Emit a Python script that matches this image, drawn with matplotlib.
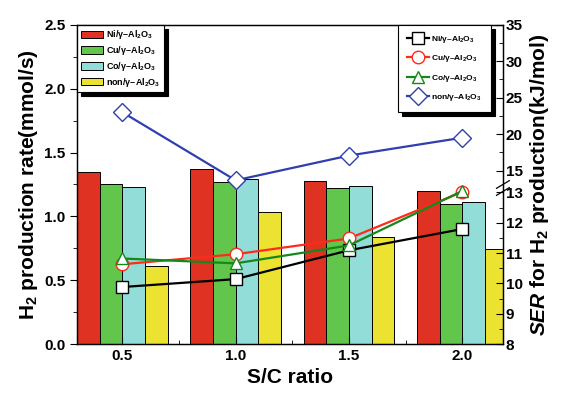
import numpy as np
import matplotlib
matplotlib.use("Agg")
import matplotlib.pyplot as plt
from matplotlib.ticker import FixedLocator, MultipleLocator

plt.rcParams['font.family'] = ['Liberation Sans', 'DejaVu Sans']
plt.rcParams['font.weight'] = 'bold'
plt.rcParams['mathtext.fontset'] = 'custom'
plt.rcParams['mathtext.rm'] = 'Liberation Sans:bold'
plt.rcParams['mathtext.bf'] = 'Liberation Sans:bold'
plt.rcParams['mathtext.it'] = 'Liberation Sans:italic:bold'
plt.rcParams['mathtext.default'] = 'bf'

# data
sc_ratio = [0.5, 1.0, 1.5, 2.0]
catalysts = ['Ni', 'Cu', 'Co', 'non']
rate_ni = [1.35, 1.37, 1.28, 1.20]
rate_cu = [1.25, 1.27, 1.22, 1.095]
rate_co = [1.23, 1.29, 1.24, 1.11]
rate_non = [0.61, 1.035, 0.84, 0.745]
ser_ni = [9.88, 10.14, 11.09, 11.79]
ser_cu = [10.63, 10.96, 11.48, 13.03]
ser_co = [10.82, 10.66, 11.25, 13.12]
ser_non = [23.0, 14.1, 17.05, 19.5]

bar_colors = ['#e03222', '#62c64c', '#92ddd8', '#ebe232']
line_colors = ['black', '#ff2a1a', '#15881a', '#2f3fae']
markers = ['s', 'o', '^', 'D']


def lab(c):
    return c + '/γ–Al$_2$O$_3$'


# broken right axis: 8-13 and 15-35
brk_in = [8, 13, 15, 35]
brk_out = [0, 5, 5.72, 10.52]


def fwd(y):
    return np.interp(y, brk_in, brk_out)


def inv(y):
    return np.interp(y, brk_out, brk_in)


fig = plt.figure(figsize=(5.67, 4.01), dpi=100)
ax1 = fig.add_axes([0.136, 0.142, 0.751, 0.796])

x = np.array(sc_ratio)
w = 0.1
rates = [rate_ni, rate_cu, rate_co, rate_non]
for i in range(4):
    ax1.bar(x + (i - 1.5) * w, rates[i], w, color=bar_colors[i], edgecolor='black',
            linewidth=0.7, label=lab(catalysts[i]))

ax1.set_xlim(0.3, 2.18)
ax1.set_ylim(0, 2.5)
ax1.set_xticks(sc_ratio)
ax1.set_xticklabels(['0.5', '1.0', '1.5', '2.0'])
ax1.xaxis.set_minor_locator(FixedLocator([0.75, 1.25, 1.75]))
ax1.yaxis.set_major_locator(MultipleLocator(0.5))
ax1.yaxis.set_minor_locator(MultipleLocator(0.25))
ax1.yaxis.set_major_formatter(matplotlib.ticker.FormatStrFormatter('%.1f'))
ax1.tick_params(axis='y', which='major', direction='out', length=5, labelsize=11)
ax1.tick_params(axis='y', which='minor', direction='out', length=3)
ax1.tick_params(axis='x', which='major', direction='in', length=5, labelsize=11)
ax1.tick_params(axis='x', which='minor', direction='in', length=3)
ax1.set_xlabel('S/C ratio', fontsize=15, fontweight='bold', labelpad=4)
ax1.set_ylabel('H$_2$ production rate(mmol/s)', fontsize=15, fontweight='bold', labelpad=3)

shadow = {'color': 'black', 'alpha': 1.0, 'ox': 3, 'oy': -3}
leg1 = ax1.legend(loc='upper left', fontsize=6.5, frameon=True, fancybox=False, shadow=shadow,
                  handlelength=2.5, handleheight=0.9, borderaxespad=0.0, labelspacing=0.3,
                  borderpad=0.4, handletextpad=0.3, framealpha=1)
leg1.get_frame().set_edgecolor('black')
leg1.get_frame().set_linewidth(0.8)

ax2 = ax1.twinx()
ax2.set_yscale('function', functions=(fwd, inv))
sers = [ser_ni, ser_cu, ser_co, ser_non]
for i in range(4):
    ax2.plot(x, sers[i], color=line_colors[i], marker=markers[i], markersize=9,
             markerfacecolor='white', markeredgecolor=line_colors[i], markeredgewidth=1.0,
             linewidth=1.6, label=lab(catalysts[i]))
ax2.set_ylim(8, 35)
ax2.yaxis.set_major_locator(FixedLocator([8, 9, 10, 11, 12, 13, 15, 20, 25, 30, 35]))
ax2.yaxis.set_minor_locator(FixedLocator([8.5, 9.5, 10.5, 11.5, 12.5, 17.5, 22.5, 27.5, 32.5]))
ax2.yaxis.set_major_formatter(matplotlib.ticker.FormatStrFormatter('%d'))
ax2.yaxis.set_minor_formatter(matplotlib.ticker.NullFormatter())
ax2.tick_params(axis='y', which='major', direction='in', length=5, labelsize=11, pad=2)
ax2.tick_params(axis='y', which='minor', direction='in', length=3)
ax2.set_ylabel('$\\mathit{SER}$ for H$_2$ production(kJ/mol)', fontsize=15, fontweight='bold',
               labelpad=4)

# break marks on right spine
for yb in [0.478, 0.500]:
    ax2.plot([0.985, 1.015], [yb - 0.012, yb + 0.012], color='black', linewidth=0.9,
             transform=ax2.transAxes, clip_on=False)

leg2 = ax2.legend(loc='upper right', fontsize=6, frameon=True, fancybox=False, shadow=shadow,
                  handlelength=2.6, borderaxespad=0.0, labelspacing=1.0, borderpad=1.1,
                  handletextpad=0.3, bbox_to_anchor=(0.972, 1.0), framealpha=1)
leg2.get_frame().set_edgecolor('black')
leg2.get_frame().set_linewidth(0.8)

for ax in (ax1, ax2):
    for s in ax.spines.values():
        s.set_linewidth(0.9)

fig.savefig('out.png', dpi=100)
